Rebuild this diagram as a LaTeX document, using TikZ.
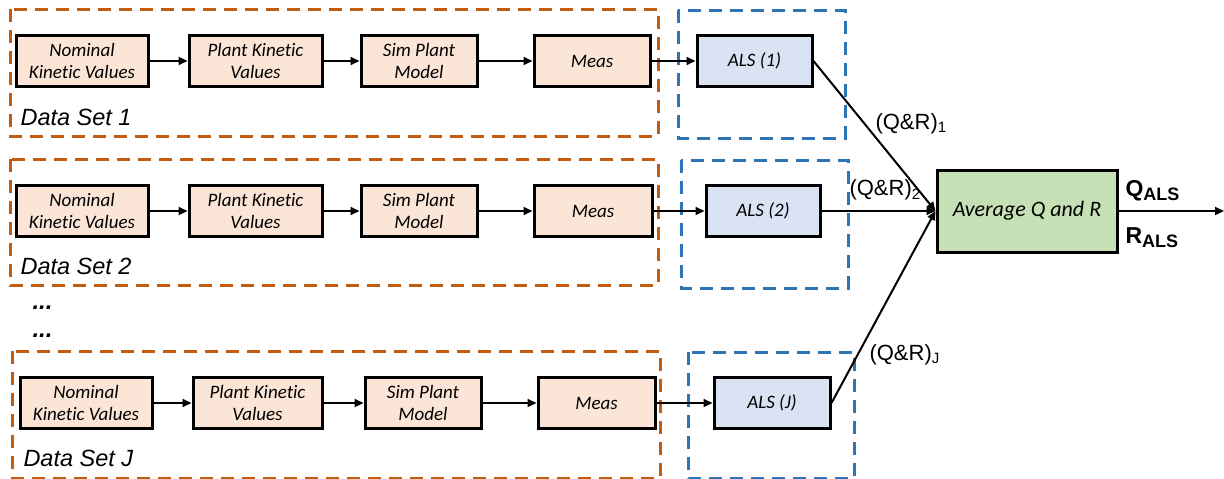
\documentclass[tikz,border=0pt]{standalone}
\usepackage{fontspec}
\setmainfont[Ligatures=NoCommon]{Carlito}
\newfontfamily\arialf{Liberation Sans}
\usetikzlibrary{arrows.meta}
\definecolor{orgdash}{HTML}{C55A11}
\definecolor{bluedash}{HTML}{2E75B6}
\definecolor{orgfill}{HTML}{FBE5D6}
\definecolor{bluefill}{HTML}{DAE3F3}
\definecolor{grnfill}{HTML}{C5E0B4}
\tikzset{
  procbox/.style={draw=black, line width=3pt, fill=orgfill, minimum height=51pt, align=center,
    inner sep=1pt, font=\fontsize{19}{22}\selectfont\itshape},
  alsbox/.style={procbox, fill=bluefill},
  avgbox/.style={procbox, fill=grnfill, minimum width=180pt, minimum height=82pt, font=\fontsize{22}{26}\selectfont\itshape},
  orgframe/.style={draw=orgdash, line width=3pt, dash pattern=on 13pt off 8pt},
  blueframe/.style={draw=bluedash, line width=3pt, dash pattern=on 13pt off 8pt},
  flow/.style={draw=black, line width=2pt, -{Triangle[length=9pt,width=8pt]}},
  setlabel/.style={font=\arialf\fontsize{23.5}{27}\selectfont\itshape, anchor=west},
  qrlabel/.style={font=\arialf\fontsize{22}{26}\selectfont},
  outlabel/.style={font=\arialf\fontsize{23}{27}\selectfont\bfseries, anchor=west},
  dotlabel/.style={font=\arialf\fontsize{24}{28}\selectfont\bfseries\itshape, anchor=west}
}
\begin{document}
\begin{tikzpicture}[x=1pt,y=-1pt]
\useasboundingbox (0,0) rectangle (1224,479);
% frames
\draw[orgframe] (10,9) rectangle (658,136);
\draw[blueframe] (678,10) rectangle (845,138);
\draw[orgframe] (10,159) rectangle (658,285);
\draw[blueframe] (681,160) rectangle (848,288);
\draw[orgframe] (12,351) rectangle (660,478);
\draw[blueframe] (688,352) rectangle (854,478);
% row 1
\node[procbox, minimum width=132pt] (n1) at (82,61) {Nominal\\Kinetic Values};
\node[procbox, minimum width=133pt] (p1) at (255.5,61) {Plant Kinetic\\Values};
\node[procbox, minimum width=116pt] (s1) at (419,61) {Sim Plant\\Model};
\node[procbox, minimum width=116pt] (m1) at (592,61) {Meas};
\node[alsbox, minimum width=115pt] (a1) at (754.5,61) {ALS (1)};
\node[setlabel] (d1) at (17,117) {Data Set 1};
% row 2
\node[procbox, minimum width=132pt] (n2) at (82,211) {Nominal\\Kinetic Values};
\node[procbox, minimum width=133pt] (p2) at (255.5,211) {Plant Kinetic\\Values};
\node[procbox, minimum width=116pt] (s2) at (419,211) {Sim Plant\\Model};
\node[procbox, minimum width=118pt] (m2) at (593,211) {Meas};
\node[alsbox, minimum width=114pt] (a2) at (763,211) {ALS (2)};
\node[setlabel] (d2) at (17,266) {Data Set 2};
% dots
\node[dotlabel] (dots1) at (29,308) {...};
\node[dotlabel] (dots2) at (29,336) {...};
% row 3
\node[procbox, minimum width=132pt] (n3) at (86,403) {Nominal\\Kinetic Values};
\node[procbox, minimum width=129pt] (p3) at (257.5,403) {Plant Kinetic\\Values};
\node[procbox, minimum width=116pt] (s3) at (423,403) {Sim Plant\\Model};
\node[procbox, minimum width=117pt] (m3) at (596.5,403) {Meas};
\node[alsbox, minimum width=116pt] (a3) at (772,403) {ALS (J)};
\node[setlabel] (d3) at (20,458) {Data Set J};
% average
\node[avgbox] (avg) at (1027,211) {Average Q and R};
\coordinate (out) at (1224,211);
% connectors
\foreach \r in {1,2,3}{
  \draw[flow] (n\r) -- (p\r);
  \draw[flow] (p\r) -- (s\r);
  \draw[flow] (s\r) -- (m\r);
  \draw[flow] (m\r) -- (a\r);
  \draw[flow] (a\r.east) -- (avg.west);
}
\draw[flow] (avg) -- (out);
% labels
\node[qrlabel, anchor=west] (q1) at (872,124) {(Q\&R)$_{\mbox{\arialf\fontsize{15}{17}\selectfont 1}}$};
\node[qrlabel, anchor=west] (q2) at (846,190) {(Q\&R)$_{\mbox{\arialf\fontsize{15}{17}\selectfont 2}}$};
\node[qrlabel, anchor=west] (q3) at (866,355) {(Q\&R)$_{\mbox{\arialf\fontsize{15}{17}\selectfont J}}$};
\node[outlabel] (qals) at (1122,191) {Q$_{\mbox{\arialf\fontsize{18}{20}\selectfont\bfseries ALS}}$};
\node[outlabel] (rals) at (1122,238) {R$_{\mbox{\arialf\fontsize{18}{20}\selectfont\bfseries ALS}}$};
\end{tikzpicture}
\end{document}
